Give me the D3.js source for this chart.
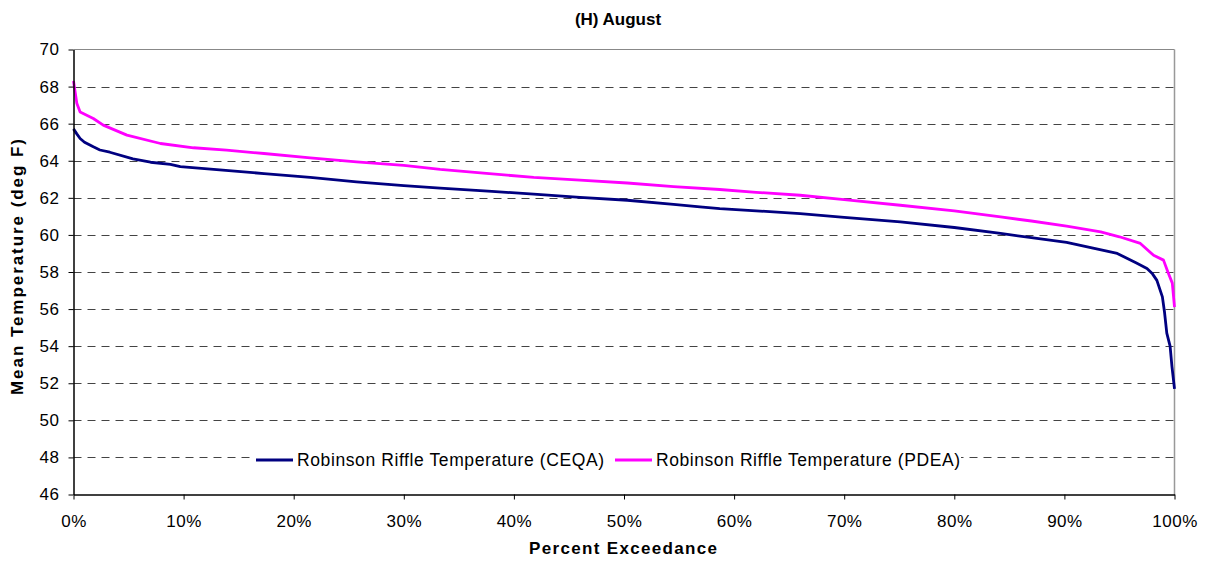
<!DOCTYPE html>
<html>
<head>
<meta charset="utf-8">
<script src="https://d3js.org/d3.v7.min.js"></script>
<style>
body { margin: 0; background: #fff; }
svg { display: block; font-family: "Liberation Sans", Arial, sans-serif; }
</style>
</head>
<body>
<svg id="chart" width="1206" height="562"></svg>
<script>
const title = "(H) August";
const xTitle = "Percent Exceedance";
const yTitle = "Mean Temperature (deg F)";
const seriesNames = ["Robinson Riffle Temperature (CEQA)", "Robinson Riffle Temperature (PDEA)"];
const seriesColors = ["#000080", "#FF00FF"];

const ceqaPct = [0, 0.3, 0.6, 1.0, 1.8, 2.4, 3.3, 5.4, 7.0, 8.8, 9.7, 13, 17.3, 21.5, 25.7, 30, 33.3, 38, 41.8, 46, 50.3, 54.5, 56.9, 58.7, 62, 66, 70, 75.1, 80, 84.2, 87, 90.2, 92.5, 94.8, 96.5, 97.5, 98.0, 98.4, 98.9, 99.1, 99.3, 99.6, 99.77, 100];
const ceqaVal = [65.72, 65.45, 65.2, 65.0, 64.75, 64.58, 64.46, 64.1, 63.92, 63.81, 63.68, 63.52, 63.31, 63.1, 62.86, 62.66, 62.52, 62.35, 62.2, 62.03, 61.87, 61.65, 61.51, 61.42, 61.3, 61.15, 60.95, 60.7, 60.4, 60.08, 59.85, 59.6, 59.3, 59.0, 58.5, 58.19, 57.9, 57.55, 56.66, 55.8, 54.7, 54.0, 52.9, 51.7];

const pdeaPct = [0, 0.3, 0.6, 1.8, 2.7, 4.85, 7.9, 10.9, 13.9, 17.3, 21.5, 25.7, 30, 33.3, 37.5, 41.8, 46, 50.3, 54.5, 58.7, 62, 66, 70, 75.1, 80, 84.2, 87, 90.2, 93.3, 95, 96.9, 98.1, 99.0, 99.4, 99.8, 100];
const pdeaVal = [68.3, 67.1, 66.63, 66.28, 65.92, 65.38, 64.93, 64.7, 64.57, 64.39, 64.15, 63.94, 63.75, 63.53, 63.32, 63.1, 62.95, 62.8, 62.6, 62.45, 62.3, 62.14, 61.9, 61.6, 61.3, 60.97, 60.75, 60.47, 60.16, 59.9, 59.54, 58.9, 58.64, 58.0, 57.4, 56.1];

const yTicks = [46, 48, 50, 52, 54, 56, 58, 60, 62, 64, 66, 68, 70];
const xTicks = [0, 10, 20, 30, 40, 50, 60, 70, 80, 90, 100];

const svg = d3.select("#chart");
const L = 73.5, R = 1174.5, T = 49.5, B = 494.5;

const x = d3.scaleLinear().domain([0, 100]).range([L, R]);
const y = d3.scaleLinear().domain([46, 70]).range([B, T]);

// gridlines
svg.append("g").selectAll("line").data(yTicks.filter(d => d > 46 && d < 70)).join("line")
  .attr("x1", L).attr("x2", R).attr("y1", d => Math.round(y(d)) + 0.5).attr("y2", d => Math.round(y(d)) + 0.5)
  .attr("stroke", "#444").attr("stroke-width", 1).attr("stroke-dasharray", "8,6");

// top and right border
svg.append("line").attr("x1", L).attr("x2", R).attr("y1", T).attr("y2", T).attr("stroke", "#888");
svg.append("line").attr("x1", R).attr("x2", R).attr("y1", T).attr("y2", B).attr("stroke", "#999").attr("stroke-width", 1.5);

// lines
const line = d3.line().x(d => x(d[0])).y(d => y(d[1]));
const series = [d3.zip(ceqaPct, ceqaVal), d3.zip(pdeaPct, pdeaVal)];
svg.append("g").selectAll("path").data(series).join("path")
  .attr("d", line).attr("fill", "none")
  .attr("stroke", (d, i) => seriesColors[i]).attr("stroke-width", 2.8)
  .attr("stroke-linejoin", "round");

// axes
const yAxis = d3.axisLeft(y).tickValues(yTicks).tickSize(5).tickSizeOuter(0).tickFormat(d3.format("d"));
const gy = svg.append("g").attr("transform", `translate(${L},0)`).call(yAxis);
gy.select(".domain").attr("stroke", "#000").attr("stroke-width", 1.5);
gy.selectAll(".tick line").attr("stroke", "#000");
gy.selectAll("text").attr("font-size", 17).attr("letter-spacing", 0.5).attr("fill", "#000").attr("x", -14)
  .attr("font-family", "Liberation Sans, Arial, sans-serif");

const xAxis = d3.axisBottom(x).tickValues(xTicks).tickSize(5).tickSizeOuter(0).tickFormat(d => d + "%");
const gx = svg.append("g").attr("transform", `translate(0,${B})`).call(xAxis);
gx.select(".domain").attr("stroke", "#000").attr("stroke-width", 1.5);
gx.selectAll(".tick line").attr("stroke", "#000");
gx.selectAll("text").attr("font-size", 17).attr("letter-spacing", 0.5).attr("fill", "#000").attr("y", 20)
  .attr("font-family", "Liberation Sans, Arial, sans-serif");

// titles
svg.append("text").attr("x", 618).attr("y", 25).attr("text-anchor", "middle")
  .attr("font-size", 17).attr("font-weight", "bold").text(title);
svg.append("text").attr("x", 623).attr("y", 554).attr("text-anchor", "middle")
  .attr("font-size", 17).attr("font-weight", "bold")
  .attr("textLength", 188).attr("lengthAdjust", "spacing").text(xTitle);
svg.append("text").attr("transform", `translate(23,${(T + B) / 2 - 5}) rotate(-90)`).attr("text-anchor", "middle")
  .attr("font-size", 17).attr("font-weight", "bold")
  .attr("textLength", 256).attr("lengthAdjust", "spacing").text(yTitle);

// legend
const lg = svg.append("g");
lg.append("rect").attr("x", 251).attr("y", 448).attr("width", 710).attr("height", 22).attr("fill", "#fff");
const legendX = [256, 615];
const legendLen = [307, 304];
seriesNames.forEach((name, i) => {
  const lx = legendX[i];
  lg.append("line").attr("x1", lx).attr("x2", lx + 37).attr("y1", 460).attr("y2", 460)
    .attr("stroke", seriesColors[i]).attr("stroke-width", 3);
  lg.append("text").attr("x", lx + 41).attr("y", 466).attr("font-size", 17.5)
    .attr("textLength", legendLen[i]).attr("lengthAdjust", "spacing").text(name);
});
</script>
</body>
</html>
